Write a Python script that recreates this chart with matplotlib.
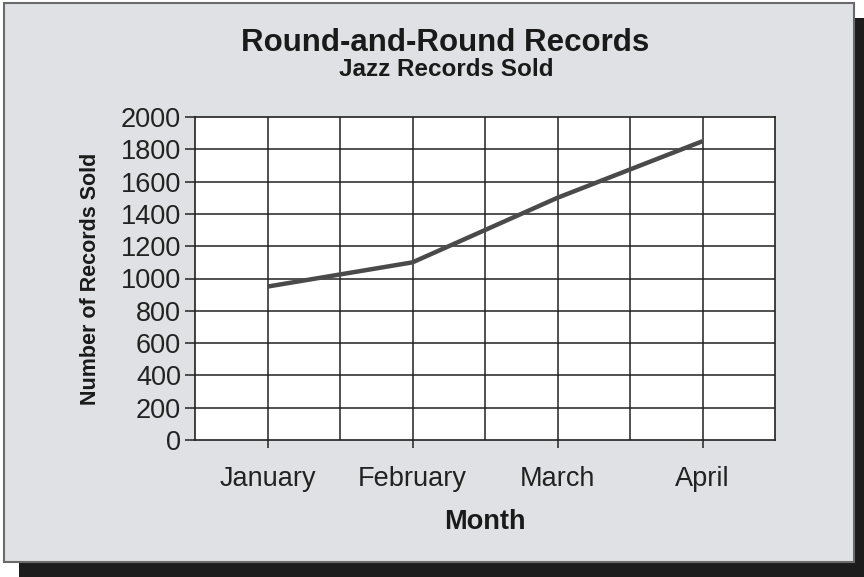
import matplotlib.pyplot as plt
from matplotlib.patches import Rectangle

# datos
months = ["January", "February", "March", "April"]
records_sold = [950, 1100, 1500, 1850]
y_ticks = [0, 200, 400, 600, 800, 1000, 1200, 1400, 1600, 1800, 2000]

plt.rcParams['font.family'] = ['Liberation Sans', 'DejaVu Sans']

fig = plt.figure(figsize=(8.64, 5.77), dpi=100)
fig.patch.set_facecolor('white')

W, H = 864, 577

# sombra y panel gris
fig.patches.append(Rectangle((19 / W, 0), (W - 19) / W, (H - 18) / H,
                             transform=fig.transFigure, facecolor='#1c1c1c',
                             edgecolor='none', zorder=0))
fig.patches.append(Rectangle((4 / W, 1 - 562 / H), 850 / W, 559 / H,
                             transform=fig.transFigure, facecolor='#dfe1e4',
                             edgecolor='#6a6a6a', linewidth=1.5, zorder=1))

ax = fig.add_axes([195 / W, 1 - 440 / H, 580 / W, 323 / H])
ax.set_zorder(2)
ax.set_facecolor('white')

x_pos = [1, 3, 5, 7]
ax.plot(x_pos, records_sold, color='#4a4a4a', linewidth=3.2,
        solid_capstyle='butt', zorder=3)

ax.set_xlim(0, 8)
ax.set_ylim(0, 2000)

# cuadricula
for gx in range(1, 8):
    ax.axvline(gx, color='#222222', linewidth=1.1, zorder=2)
for gy in y_ticks[1:-1]:
    ax.axhline(gy, color='#222222', linewidth=1.1, zorder=2)

for s in ax.spines.values():
    s.set_color('#222222')
    s.set_linewidth(1.2)

ax.set_yticks(y_ticks)
ax.set_yticklabels([str(v) for v in y_ticks], fontsize=19.5, color='#222222')
ax.set_xticks(x_pos)
ax.set_xticklabels(months, fontsize=19.5, color='#222222')
ax.tick_params(axis='y', direction='out', length=7, width=1.1, color='#222222', pad=3)
ax.tick_params(axis='x', direction='out', length=6, width=1.1, color='#222222', pad=13)

ax.set_xlabel("Month", fontsize=19.5, fontweight='bold', color='#1a1a1a', labelpad=12)
ax.set_ylabel("Number of Records Sold", fontsize=15.5, fontweight='bold',
              color='#1a1a1a', labelpad=14)

fig.text(445 / W, 1 - 43 / H, "Round-and-Round Records", fontsize=22.5,
         fontweight='bold', color='#1a1a1a', ha='center', va='center')
fig.text(446 / W, 1 - 70 / H, "Jazz Records Sold", fontsize=17.5,
         fontweight='bold', color='#1a1a1a', ha='center', va='center')

fig.savefig("out.png", dpi=100)
